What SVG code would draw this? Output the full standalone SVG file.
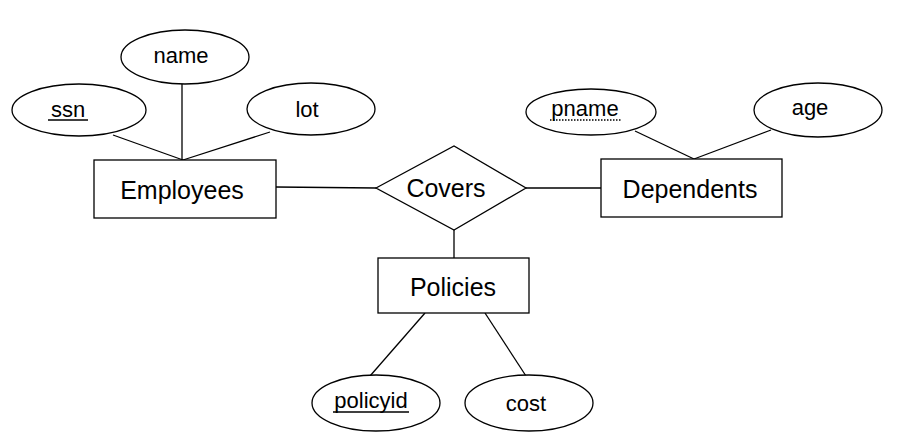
<svg xmlns="http://www.w3.org/2000/svg" width="902" height="445" viewBox="0 0 902 445">
<style>
.s{fill:#fff;stroke:#000;stroke-width:1.3}
.l{stroke:#000;stroke-width:1.3;fill:none}
.t{font-family:"Liberation Sans",Arial,sans-serif;fill:#000;text-anchor:middle}
.big{font-size:25px}
.att{font-size:22px}
</style>
<rect width="902" height="445" fill="#fff"/>
<g id="connectors">
<line class="l" x1="113" y1="135" x2="183" y2="160"/>
<line class="l" x1="182" y1="84" x2="182" y2="160"/>
<line class="l" x1="270" y1="132" x2="183" y2="160"/>
<line class="l" x1="276" y1="187" x2="376" y2="188"/>
<line class="l" x1="526" y1="188" x2="601" y2="188"/>
<line class="l" x1="454" y1="230" x2="454" y2="258"/>
<line class="l" x1="635" y1="131" x2="694" y2="159"/>
<line class="l" x1="771" y1="130" x2="694" y2="159"/>
<line class="l" x1="425" y1="313" x2="370" y2="376"/>
<line class="l" x1="485" y1="313" x2="526" y2="376"/>
</g>
<g id="employees">
<rect class="s" x="94" y="160" width="182" height="58"/>
<text class="t big" x="182" y="199">Employees</text>
</g>
<g id="ssn">
<ellipse class="s" cx="79" cy="110" rx="67" ry="26"/>
<text class="t att" x="68" y="117">ssn</text>
<line class="l" x1="48" y1="120" x2="88" y2="120"/>
</g>
<g id="name">
<ellipse class="s" cx="185" cy="57" rx="64" ry="27"/>
<text class="t att" x="181" y="63">name</text>
</g>
<g id="lot">
<ellipse class="s" cx="311" cy="109" rx="64" ry="26"/>
<text class="t att" x="307" y="117">lot</text>
</g>
<g id="covers">
<polygon class="s" points="376,188 454,146 526,188 454,230"/>
<text class="t big" x="446" y="197">Covers</text>
</g>
<g id="dependents">
<rect class="s" x="601" y="159" width="181" height="58"/>
<text class="t big" x="690" y="198">Dependents</text>
</g>
<g id="pname">
<ellipse class="s" cx="591" cy="112" rx="65" ry="23"/>
<text class="t att" x="585" y="116">pname</text>
<line class="l" x1="550" y1="120" x2="621" y2="120" stroke-dasharray="1.5,1.5"/>
</g>
<g id="age">
<ellipse class="s" cx="818" cy="110" rx="64" ry="27"/>
<text class="t att" x="810" y="115">age</text>
</g>
<g id="policies">
<rect class="s" x="378" y="258" width="151" height="55"/>
<text class="t big" x="453" y="296">Policies</text>
</g>
<g id="policyid">
<ellipse class="s" cx="376" cy="403" rx="64" ry="28"/>
<text class="t att" x="371" y="408">policyid</text>
<line class="l" x1="333" y1="412" x2="409" y2="412"/>
</g>
<g id="cost">
<ellipse class="s" cx="529" cy="403" rx="64" ry="28"/>
<text class="t att" x="526" y="411">cost</text>
</g>
</svg>
